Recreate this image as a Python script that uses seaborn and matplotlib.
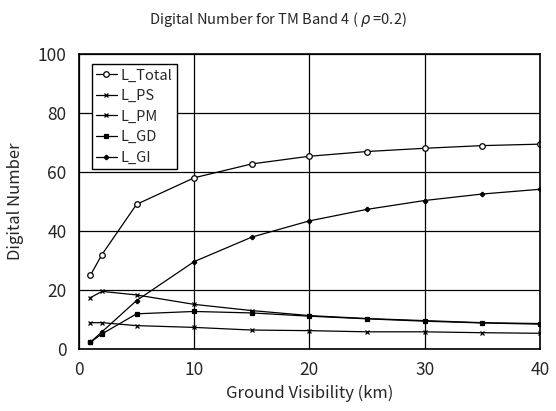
import numpy as np
import pandas as pd
import matplotlib
matplotlib.use("Agg")
import matplotlib.pyplot as plt
import seaborn as sns

# ground visibility (km)
visibility = [1, 2, 5, 10, 15, 20, 25, 30, 35, 40]

# digital number per component
l_total = [25.0, 32.0, 49.0, 58.0, 62.7, 65.3, 66.9, 68.0, 68.9, 69.4]
l_ps = [8.9, 8.9, 7.9, 7.3, 6.4, 6.2, 5.8, 5.8, 5.5, 5.3]
l_pm = [17.4, 19.5, 18.3, 15.1, 13.0, 11.3, 10.3, 9.6, 8.9, 8.6]
l_gd = [2.3, 5.1, 11.9, 12.7, 12.2, 11.1, 10.2, 9.4, 8.8, 8.4]
l_gi = [2.3, 5.8, 16.4, 29.6, 37.9, 43.4, 47.3, 50.3, 52.5, 54.1]

series_names = ["L_Total", "L_PS", "L_PM", "L_GD", "L_GI"]

df = pd.DataFrame({
    "vis": visibility * 5,
    "dn": l_total + l_ps + l_pm + l_gd + l_gi,
    "series": np.repeat(series_names, len(visibility)),
})

sns.set_style("white")
plt.rcParams["font.family"] = ["Noto Sans CJK JP", "DejaVu Sans"]

fig, ax = plt.subplots(figsize=(5.56, 4.11), dpi=100)
fig.subplots_adjust(left=0.142, right=0.971, top=0.869, bottom=0.151)

markers = {"L_Total": "o", "L_PS": "x", "L_PM": "x", "L_GD": "s", "L_GI": "P"}
sizes = {"L_Total": 4, "L_PS": 2.5, "L_PM": 3, "L_GD": 2.5, "L_GI": 3}

for name in series_names:
    sub = df[df["series"] == name]
    sns.lineplot(data=sub, x="vis", y="dn", ax=ax, color="black", lw=0.9,
                 marker=markers[name], markersize=sizes[name],
                 markerfacecolor="white" if name == "L_Total" else "black",
                 markeredgecolor="black", markeredgewidth=0.9, label=name)

ax.set_xlim(0, 40)
ax.set_ylim(0, 100)
ax.set_xticks([0, 10, 20, 30, 40])
ax.set_yticks([0, 20, 40, 60, 80, 100])
ax.grid(True, color="black", lw=0.9)
for s in ax.spines.values():
    s.set_color("black")
    s.set_linewidth(1.2)
ax.tick_params(length=0, labelsize=12.5, pad=9)

ax.set_xlabel("Ground Visibility (km)", fontsize=12, labelpad=4)
ax.set_ylabel("Digital Number", fontsize=12, labelpad=10)
fig.suptitle(r"Digital Number for TM Band 4 ( $\rho$ =0.2)", fontsize=10.5, y=0.975)

leg = ax.legend(loc="upper left", bbox_to_anchor=(0.012, 0.99), frameon=True,
                fancybox=False, edgecolor="black", fontsize=10.5,
                handlelength=1.4, handletextpad=0.3, borderpad=0.3,
                labelspacing=0.45)
leg.get_frame().set_linewidth(1.0)
leg.get_frame().set_alpha(1)

fig.savefig("out.png", dpi=100)
